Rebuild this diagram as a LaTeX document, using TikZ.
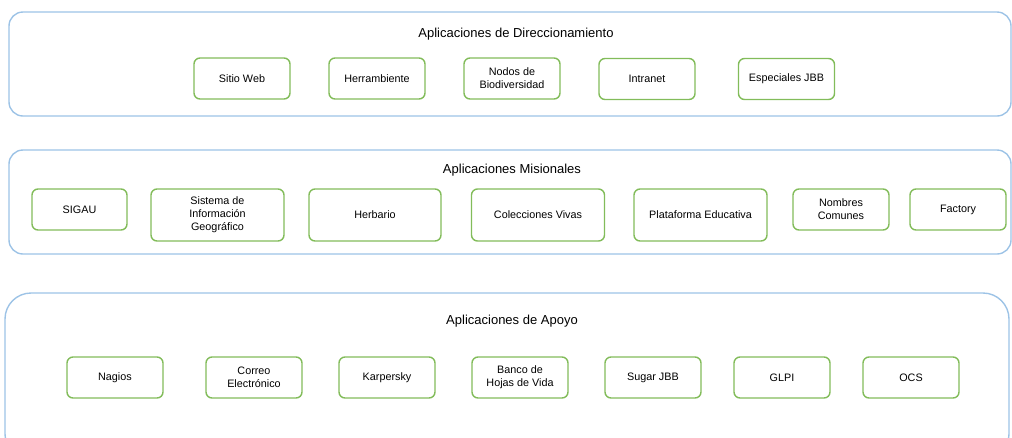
\documentclass[tikz,border=0pt]{standalone}
\usepackage{fontspec}
\setmainfont{Liberation Sans}
\definecolor{panelblue}{RGB}{157,195,230}
\definecolor{appgreen}{RGB}{130,188,90}
\tikzset{
  panel/.style={draw=panelblue, line width=1.4pt, rounded corners=14pt},
  paneltitle/.style={font=\fontsize{13}{15}\selectfont, inner sep=0pt},
  app/.style={draw=appgreen, line width=1.4pt, rounded corners=6pt, align=center,
    inner sep=0pt, font=\fontsize{10.8}{13}\selectfont},
  appshort/.style={app, minimum width=96pt, minimum height=41pt},
  applong/.style={app, minimum width=133pt, minimum height=52pt}
}

\begin{document}
\begin{tikzpicture}[x=1pt, y=-1pt]
  \useasboundingbox (0,0) rectangle (1012,437);
  \clip (0,0) rectangle (1012,437);

  % Panels
  \draw[panel] (9,12) rectangle (1011,116);
  \draw[panel] (9,150) rectangle (1011,254);
  \draw[panel, rounded corners=26pt] (5,293) rectangle (1009,460);

  % Aplicaciones de Direccionamiento
  \node[paneltitle] (direc) at (516,34) {Aplicaciones de Direccionamiento};
  \node[appshort] (sitio) at (242,78.5) {Sitio Web};
  \node[appshort] (herram) at (377,78.5) {Herrambiente};
  \node[appshort] (nodos) at (512,78.5) {Nodos de\\Biodiversidad};
  \node[appshort] (intranet) at (647,79) {Intranet};
  \node[appshort] (especiales) at (786.5,79) {Especiales JBB};

  % Aplicaciones Misionales
  \node[paneltitle] (mision) at (512,170) {Aplicaciones Misionales};
  \node[appshort, minimum width=95pt] (sigau) at (79.5,209.5) {SIGAU};
  \node[applong] (sig) at (217.5,215) {Sistema de\\Información\\Geográfico};
  \node[applong, minimum width=132pt] (herbario) at (375,215) {Herbario};
  \node[applong] (colecciones) at (538,215) {Colecciones Vivas};
  \node[applong] (plataforma) at (700.5,215) {Plataforma Educativa};
  \node[appshort] (nombres) at (841,209.5) {Nombres\\Comunes};
  \node[appshort] (factory) at (958,209.5) {Factory};

  % Aplicaciones de Apoyo
  \node[paneltitle] (apoyo) at (512,321) {Aplicaciones de Apoyo};
  \node[appshort] (nagios) at (115,377.5) {Nagios};
  \node[appshort] (correo) at (254,377.5) {Correo\\Electrónico};
  \node[appshort] (karpersky) at (387,377.5) {Karpersky};
  \node[appshort] (banco) at (520,377.5) {Banco de\\Hojas de Vida};
  \node[appshort] (sugar) at (653,377.5) {Sugar JBB};
  \node[appshort] (glpi) at (782,377.5) {GLPI};
  \node[appshort] (ocs) at (911,377.5) {OCS};
\end{tikzpicture}
\end{document}
